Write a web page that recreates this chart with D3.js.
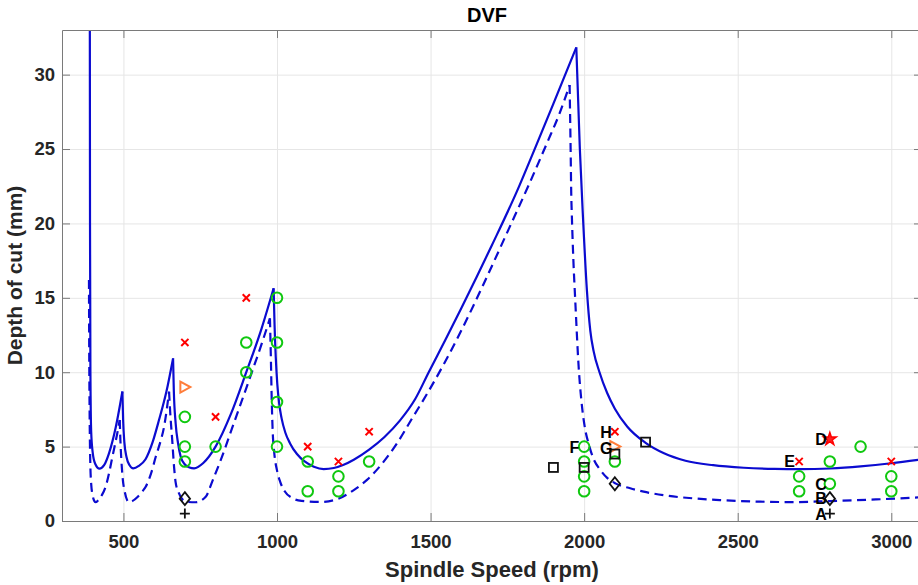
<!DOCTYPE html>
<html>
<head>
<meta charset="utf-8">
<script src="https://cdn.jsdelivr.net/npm/d3@7"></script>
<style>
  body { margin: 0; background: #fff; }
  svg text { font-family: "Liberation Sans", Arial, Helvetica, sans-serif; }
</style>
</head>
<body>
<div id="chart"></div>
<script>
// ---- data ----
const xTicks = [500, 1000, 1500, 2000, 2500, 3000];
const yTicks = [0, 5, 10, 15, 20, 25, 30];

// stability boundary (solid), one array per lobe, cusp to cusp
const solidLobes = [
  [[390.5, 36], [391.2, 20], [392.5, 10], [395, 6], [400, 4.6], [408, 3.85], [422, 3.52], [437, 3.75], [453, 4.55], [475, 6.3], [496.6, 8.7]],
  [[496.6, 8.7], [499, 6.8], [503, 5.3], [510, 4.3], [520, 3.75], [532, 3.54], [550, 3.7], [572, 4.15], [595, 5.3], [616, 6.8], [640, 8.7], [661.6, 10.93]],
  [[661.6, 10.93], [664, 8.8], [670, 6.57], [678, 5.2], [686.5, 4.32], [700, 3.8], [715, 3.6], [730, 3.54], [760, 3.9], [800, 5.0], [850, 7.2], [900, 10.0], [950, 12.95], [989, 15.64]],
  [[989, 15.64], [992, 13.2], [996, 11.0], [1001, 9.2], [1007, 7.9], [1015, 6.9], [1027, 5.95], [1043, 5.2], [1065, 4.5], [1090, 4.0], [1120, 3.65], [1152, 3.49], [1185, 3.56], [1217, 3.78], [1250, 4.12], [1300, 4.8], [1350, 5.65], [1400, 6.75], [1450, 8.2], [1494, 10.0], [1550, 12.25], [1600, 14.3], [1650, 16.4], [1700, 18.55], [1780, 22.1], [1843, 25.2], [1900, 28.05], [1974.5, 31.83]],
  [[1974.5, 31.83], [1986, 25], [1996, 20.5], [2009, 15.5], [2020, 12.8], [2031, 11.4], [2050, 10.0], [2075, 8.6], [2100, 7.55], [2140, 6.35], [2200, 5.25], [2260, 4.55], [2330, 4.05], [2420, 3.75], [2520, 3.58], [2620, 3.5], [2703, 3.48], [2801, 3.53], [2900, 3.67], [3000, 3.88], [3100, 4.15]]
];

// lower boundary (dashed)
const dashedLobes = [
  [[387.8, 16.2], [388.5, 12], [390, 7], [392, 4], [395, 2.5], [400, 1.7], [405, 1.35], [410, 1.26], [420, 1.45], [430, 1.75], [442, 2.3], [453, 3.2], [464, 4.3], [480, 5.9], [488, 6.79]],
  [[488, 6.79], [490, 5.5], [493, 4.2], [497, 3.0], [505, 1.9], [512, 1.4], [518, 1.26], [530, 1.35], [545, 1.6], [560, 1.95], [572.5, 2.3], [590, 3.2], [605, 4.3], [620, 5.3], [632, 6.3], [648.6, 8.69]],
  [[648.6, 8.69], [652, 7.4], [659, 5.4], [665, 3.6], [670, 2.6], [680, 1.9], [692, 1.45], [710, 1.28], [735, 1.26], [768, 1.63], [790, 2.7], [815, 4.0], [860, 6.6], [913, 9.7], [950, 11.9], [977, 13.62]],
  [[977, 13.62], [980, 11], [983, 8], [986, 6], [991, 4.6], [1000, 3.4], [1011, 2.6], [1025, 2.0], [1049, 1.55], [1080, 1.35], [1141, 1.28], [1200, 1.5], [1250, 2.08], [1293, 2.76], [1340, 3.8], [1390, 5.2], [1440, 6.9], [1490, 8.6], [1542, 10.5], [1600, 12.8], [1672, 15.9], [1754, 19.6], [1820, 22.6], [1879, 25.4], [1920, 27.4], [1952.7, 29.3]],
  [[1952.7, 29.3], [1956, 25], [1958, 22], [1960, 20.5], [1965, 17.5], [1971, 14.85], [1982, 10.4], [1993, 7.7], [2003, 6.2], [2014.5, 5.2], [2030, 4.2], [2052.6, 3.43], [2075, 2.9], [2101.6, 2.53], [2150, 2.2], [2194, 1.97], [2270, 1.7], [2356, 1.52], [2450, 1.4], [2573, 1.3], [2680, 1.27], [2801, 1.34], [2950, 1.45], [3100, 1.6]]
];

// test cuts
const chatterPts = [[700, 12], [800, 7], [900, 15], [1100, 5], [1200, 4], [1300, 6], [2100, 6], [2700, 4], [3000, 4]];
const stablePts = [[700, 7], [700, 5], [700, 4], [800, 5], [900, 12], [900, 10], [1000, 15], [1000, 12], [1000, 8], [1000, 5],
  [1100, 4], [1100, 2], [1200, 3], [1200, 2], [1300, 4], [2000, 5], [2000, 4], [2000, 3], [2000, 2], [2100, 4],
  [2700, 3], [2700, 2], [2800, 4], [2800, 2.5], [2900, 5], [3000, 3], [3000, 2]];
const trianglePts = [[700, 9], [2100, 5]];
const squarePts = [[1900, 3.6], [2000, 3.6], [2100, 4.5], [2200, 5.3]];
const diamondPts = [[700, 1.5], [2100, 2.5], [2800, 1.5]];
const plusPts = [[700, 0.5], [2800, 0.5]];
const starPts = [[2800, 5.5]];
const pointLabels = [
  {text: "A", x: 2790, y: 0.45}, {text: "B", x: 2790, y: 1.5}, {text: "C", x: 2790, y: 2.5},
  {text: "D", x: 2790, y: 5.5}, {text: "E", x: 2686, y: 4}, {text: "F", x: 1984, y: 4.95},
  {text: "G", x: 2092, y: 4.9}, {text: "H", x: 2090, y: 5.95}
];

class StabilityLobesD3 {
    margin = {top: 30, right: -4, bottom: 64, left: 62};
    size;
    height;
    width;
    matSvg;
    xScale;
    yScale;

    constructor(el){
        this.el = el;
    };

    create = function (config) {
        this.size = {width: config.size.width, height: config.size.height};
        this.width = this.size.width - this.margin.left - this.margin.right;
        this.height = this.size.height - this.margin.top - this.margin.bottom;

        const svg = d3.select(this.el).append("svg")
            .attr("width", this.size.width)
            .attr("height", this.size.height);
        svg.append("rect")
            .attr("width", this.size.width)
            .attr("height", this.size.height)
            .attr("fill", "white");

        svg.append("defs").append("clipPath")
            .attr("id", "plotClip")
            .append("rect")
            .attr("width", this.width)
            .attr("height", this.height);

        this.matSvg = svg.append("g")
            .attr("class", "matSvgG")
            .attr("transform", "translate(" + this.margin.left + "," + this.margin.top + ")");

        this.xScale = d3.scaleLinear([300, 3100], [0, this.width]);
        this.yScale = d3.scaleLinear([0, 33], [this.height, 0]);
    }

    renderGrid = function () {
        this.matSvg.append("g")
            .attr("transform", `translate(0,${this.height})`)
            .call(d3.axisBottom(this.xScale).tickValues(xTicks).tickSize(-this.height).tickFormat(""))
            .call(g => g.select(".domain").remove())
            .call(g => g.selectAll("line").attr("stroke", "#e6e6e6"));
        this.matSvg.append("g")
            .call(d3.axisLeft(this.yScale).tickValues(yTicks).tickSize(-this.width).tickFormat(""))
            .call(g => g.select(".domain").remove())
            .call(g => g.selectAll("line").attr("stroke", "#e6e6e6"));
    }

    renderAxes = function () {
        const axisColor = "#7a7a7a";
        const fmt = d3.format("d");
        const styleAxis = g => {
            g.select(".domain").attr("stroke", axisColor);
            g.selectAll(".tick line").attr("stroke", axisColor);
            g.selectAll(".tick text")
                .attr("fill", "#262626")
                .attr("font-size", "18.5px")
                .attr("font-weight", "bold");
        };
        this.matSvg.append("g")
            .attr("transform", `translate(0,${this.height})`)
            .call(d3.axisBottom(this.xScale).tickValues(xTicks).tickFormat(fmt).tickSizeInner(-8).tickSizeOuter(0).tickPadding(14))
            .call(styleAxis);
        this.matSvg.append("g")
            .call(d3.axisTop(this.xScale).tickValues(xTicks).tickSizeInner(-8).tickSizeOuter(0).tickFormat(""))
            .call(styleAxis);
        this.matSvg.append("g")
            .call(d3.axisLeft(this.yScale).tickValues(yTicks).tickFormat(fmt).tickSizeInner(-8).tickSizeOuter(0).tickPadding(7))
            .call(styleAxis);
        this.matSvg.append("g")
            .attr("transform", `translate(${this.width},0)`)
            .call(d3.axisRight(this.yScale).tickValues(yTicks).tickSizeInner(-8).tickSizeOuter(0).tickFormat(""))
            .call(styleAxis);

        // title + axis labels
        this.matSvg.append("text")
            .attr("x", this.width / 2 - 5)
            .attr("y", -8)
            .attr("text-anchor", "middle")
            .attr("font-size", "20px")
            .attr("font-weight", "bold")
            .attr("fill", "#000")
            .text("DVF");
        this.matSvg.append("text")
            .attr("x", this.width / 2)
            .attr("y", this.height + 56)
            .attr("text-anchor", "middle")
            .attr("font-size", "22px")
            .attr("font-weight", "bold")
            .attr("fill", "#262626")
            .text("Spindle Speed (rpm)");
        this.matSvg.append("text")
            .attr("transform", `translate(${-40},${this.height / 2}) rotate(-90)`)
            .attr("text-anchor", "middle")
            .attr("font-size", "21px")
            .attr("font-weight", "bold")
            .attr("fill", "#262626")
            .text("Depth of cut (mm)");
    }

    renderLobes = function () {
        const line = d3.line()
            .x(d => this.xScale(d[0]))
            .y(d => this.yScale(d[1]))
            .curve(d3.curveMonotoneX);
        const lobeG = this.matSvg.append("g").attr("clip-path", "url(#plotClip)");
        lobeG.selectAll(".solidLobe")
            .data(solidLobes)
            .join("path")
            .attr("class", "solidLobe")
            .attr("d", line)
            .attr("fill", "none")
            .attr("stroke", "#0b0bd0")
            .attr("stroke-width", 2.2);
        lobeG.selectAll(".dashedLobe")
            .data(dashedLobes)
            .join("path")
            .attr("class", "dashedLobe")
            .attr("d", line)
            .attr("fill", "none")
            .attr("stroke", "#0b0bd0")
            .attr("stroke-width", 2.2)
            .attr("stroke-dasharray", "9,5.5");
    }

    renderMarkers = function () {
        const x = this.xScale, y = this.yScale;
        const mk = this.matSvg.append("g").attr("class", "markers");
        const tr = d => `translate(${x(d[0])},${y(d[1])})`;

        mk.selectAll(".stable")
            .data(stablePts)
            .join("circle")
            .attr("class", "stable")
            .attr("cx", d => x(d[0]))
            .attr("cy", d => y(d[1]))
            .attr("r", 5.3)
            .attr("fill", "none")
            .attr("stroke", "#10c810")
            .attr("stroke-width", 2);

        mk.selectAll(".chatter")
            .data(chatterPts)
            .join("path")
            .attr("class", "chatter")
            .attr("transform", tr)
            .attr("d", "M-3.6,-3.6L3.6,3.6M-3.6,3.6L3.6,-3.6")
            .attr("stroke", "#ff0000")
            .attr("stroke-width", 2);

        mk.selectAll(".tri")
            .data(trianglePts)
            .join("path")
            .attr("class", "tri")
            .attr("transform", tr)
            .attr("d", "M-4.5,-5.5L5.5,0L-4.5,5.5Z")
            .attr("fill", "none")
            .attr("stroke", "#ff7d3a")
            .attr("stroke-width", 2);

        mk.selectAll(".square")
            .data(squarePts)
            .join("rect")
            .attr("class", "square")
            .attr("x", d => x(d[0]) - 4.5)
            .attr("y", d => y(d[1]) - 4.5)
            .attr("width", 9)
            .attr("height", 9)
            .attr("fill", "none")
            .attr("stroke", "#111")
            .attr("stroke-width", 1.8);

        mk.selectAll(".diamond")
            .data(diamondPts)
            .join("path")
            .attr("class", "diamond")
            .attr("transform", tr)
            .attr("d", "M0,-6.5L5.2,0L0,6.5L-5.2,0Z")
            .attr("fill", "none")
            .attr("stroke", "#111")
            .attr("stroke-width", 1.8);

        mk.selectAll(".plus")
            .data(plusPts)
            .join("path")
            .attr("class", "plus")
            .attr("transform", tr)
            .attr("d", "M-5,0H5M0,-5V5")
            .attr("stroke", "#111")
            .attr("stroke-width", 1.8);

        mk.selectAll(".star")
            .data(starPts)
            .join("path")
            .attr("class", "star")
            .attr("transform", tr)
            .attr("d", d3.symbol(d3.symbolStar, 50))
            .attr("fill", "#ff2020")
            .attr("stroke", "#ff0000")
            .attr("stroke-width", 1.5);

        mk.selectAll(".ptLabel")
            .data(pointLabels)
            .join("text")
            .attr("class", "ptLabel")
            .attr("x", d => x(d.x))
            .attr("y", d => y(d.y))
            .attr("dy", "0.36em")
            .attr("text-anchor", "end")
            .attr("font-size", "16px")
            .attr("font-weight", "bold")
            .attr("fill", "#000")
            .text(d => d.text);
    }
}

const chart = new StabilityLobesD3(document.getElementById("chart"));
chart.create({size: {width: 918, height: 585}});
chart.renderGrid();
chart.renderLobes();
chart.renderAxes();
chart.renderMarkers();
</script>
</body>
</html>
